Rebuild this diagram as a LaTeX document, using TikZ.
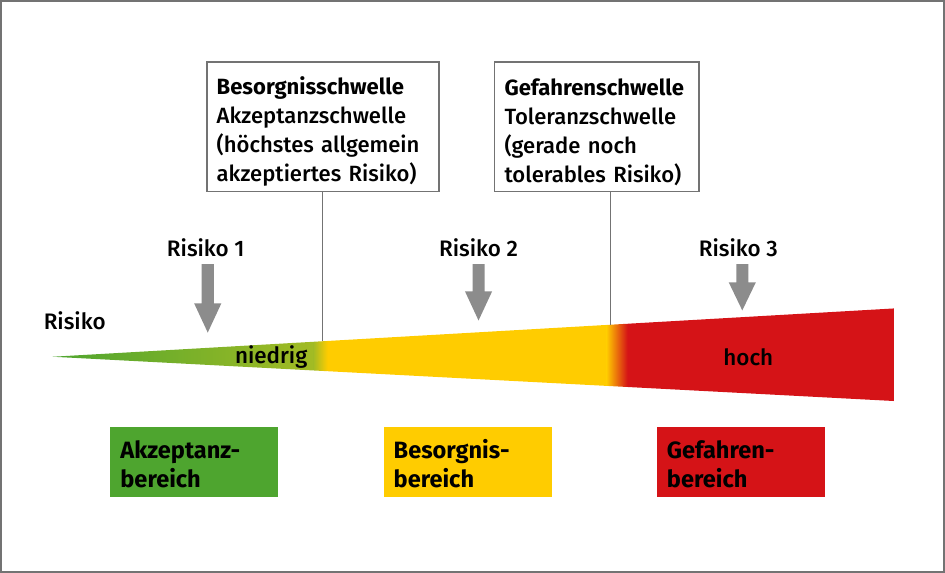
\documentclass[tikz,border=0pt]{standalone}
\usepackage{fontspec}
\setmainfont{Fira Sans Medium}[BoldFont={Fira Sans Bold}]
\usepackage{tikz}
\usetikzlibrary{positioning,calc}
\definecolor{rkgreen}{HTML}{4EA52F}
\definecolor{rkolive}{HTML}{A2BB24}
\definecolor{rkyellow}{HTML}{FFCC00}
\definecolor{rkorange}{HTML}{E8800C}
\definecolor{rkred}{HTML}{D51317}
\definecolor{rkarrow}{HTML}{8C8C8C}
\definecolor{rkframe}{HTML}{737373}

% block arrow: centre x, start of head, tip
\newcommand{\risikopfeil}[3]{%
  \fill[rkarrow] (#1-6,266) -- (#1+6,266) -- (#1+6,#2) -- (#1+13.5,#2)
    -- (#1,#3) -- (#1-13.5,#2) -- (#1-6,#2) -- cycle;}

\begin{document}
\begin{tikzpicture}[x=0.03cm, y=-0.03cm,
  schwelle/.style={draw=rkframe, line width=1.5pt, fill=white, anchor=north west,
                   align=left, inner xsep=0.3cm, minimum height=3.87cm,
                   font=\fontsize{18.7}{24.6}\selectfont},
  bereich/.style={anchor=north west, align=left, inner xsep=0.3cm,
                  minimum height=2.07cm, text width=4.41cm,
                  font=\bfseries\fontsize{20}{24.7}\selectfont},
  marke/.style={draw=rkframe, line width=1.5pt},
  lbl/.style={font=\fontsize{19}{22}\selectfont},
  node distance=3.12cm
]
  \draw[rkframe, line width=1.5pt] (3.5,4.5) rectangle (940.5,571.5);

  % wedge
  \begin{scope}
    \clip (55,358) -- (891,310) -- (891,402) -- cycle;
    \shade[left color=rkgreen, right color=rkolive] (55,300) rectangle (314,410);
    \shade[left color=rkolive, right color=rkyellow] (314,300) rectangle (328,410);
    \fill[rkyellow] (328,300) rectangle (605,410);
    \shade[left color=rkyellow, middle color=rkorange, right color=rkred] (605,300) rectangle (626,410);
    \fill[rkred] (626,300) rectangle (892,410);
  \end{scope}
  \coordinate (s1) at (323,342.6);
  \coordinate (s2) at (609,326.2);

  \node[schwelle, text width=6.33cm] (besorgnis) at (207,64)
    {\rule{0pt}{0.85cm}\textbf{Besorgnisschwelle}\\Akzeptanzschwelle\\(höchstes allgemein\\akzeptiertes Risiko)};
  \node[schwelle, text width=5.49cm] (gefahr) at (493,64)
    {\rule{0pt}{0.85cm}\textbf{Gefahrenschwelle}\\Toleranzschwelle\\(gerade noch\\tolerables Risiko)};
  \draw[marke] (besorgnis.south -| s1) -- (s1);
  \draw[marke] (gefahr.south -| s2) -- (s2);

  \node[lbl] (risiko1) at (207,250) {Risiko 1};
  \node[lbl] (risiko2) at (478,250) {Risiko 2};
  \node[lbl] (risiko3) at (736,250) {Risiko 3};
  \risikopfeil{209}{305}{334}
  \risikopfeil{478}{293}{322}
  \risikopfeil{740}{284}{312}

  \node[lbl, anchor=west] (risiko) at (42,322) {Risiko};
  \node[lbl] (niedrig) at (272,358) {niedrig};
  \node[lbl] (hoch) at (746,358) {hoch};

  \node[bereich, fill=rkgreen] (akzeptanz) at (112,428) {\rule{0pt}{0.66cm}Akzeptanz-\\bereich};
  \node[bereich, fill=rkyellow, right=of akzeptanz] (besorgnisb) {\rule{0pt}{0.66cm}Besorgnis-\\bereich};
  \node[bereich, fill=rkred, right=of besorgnisb] (gefahrb) {\rule{0pt}{0.66cm}Gefahren-\\bereich};
\end{tikzpicture}
\end{document}
